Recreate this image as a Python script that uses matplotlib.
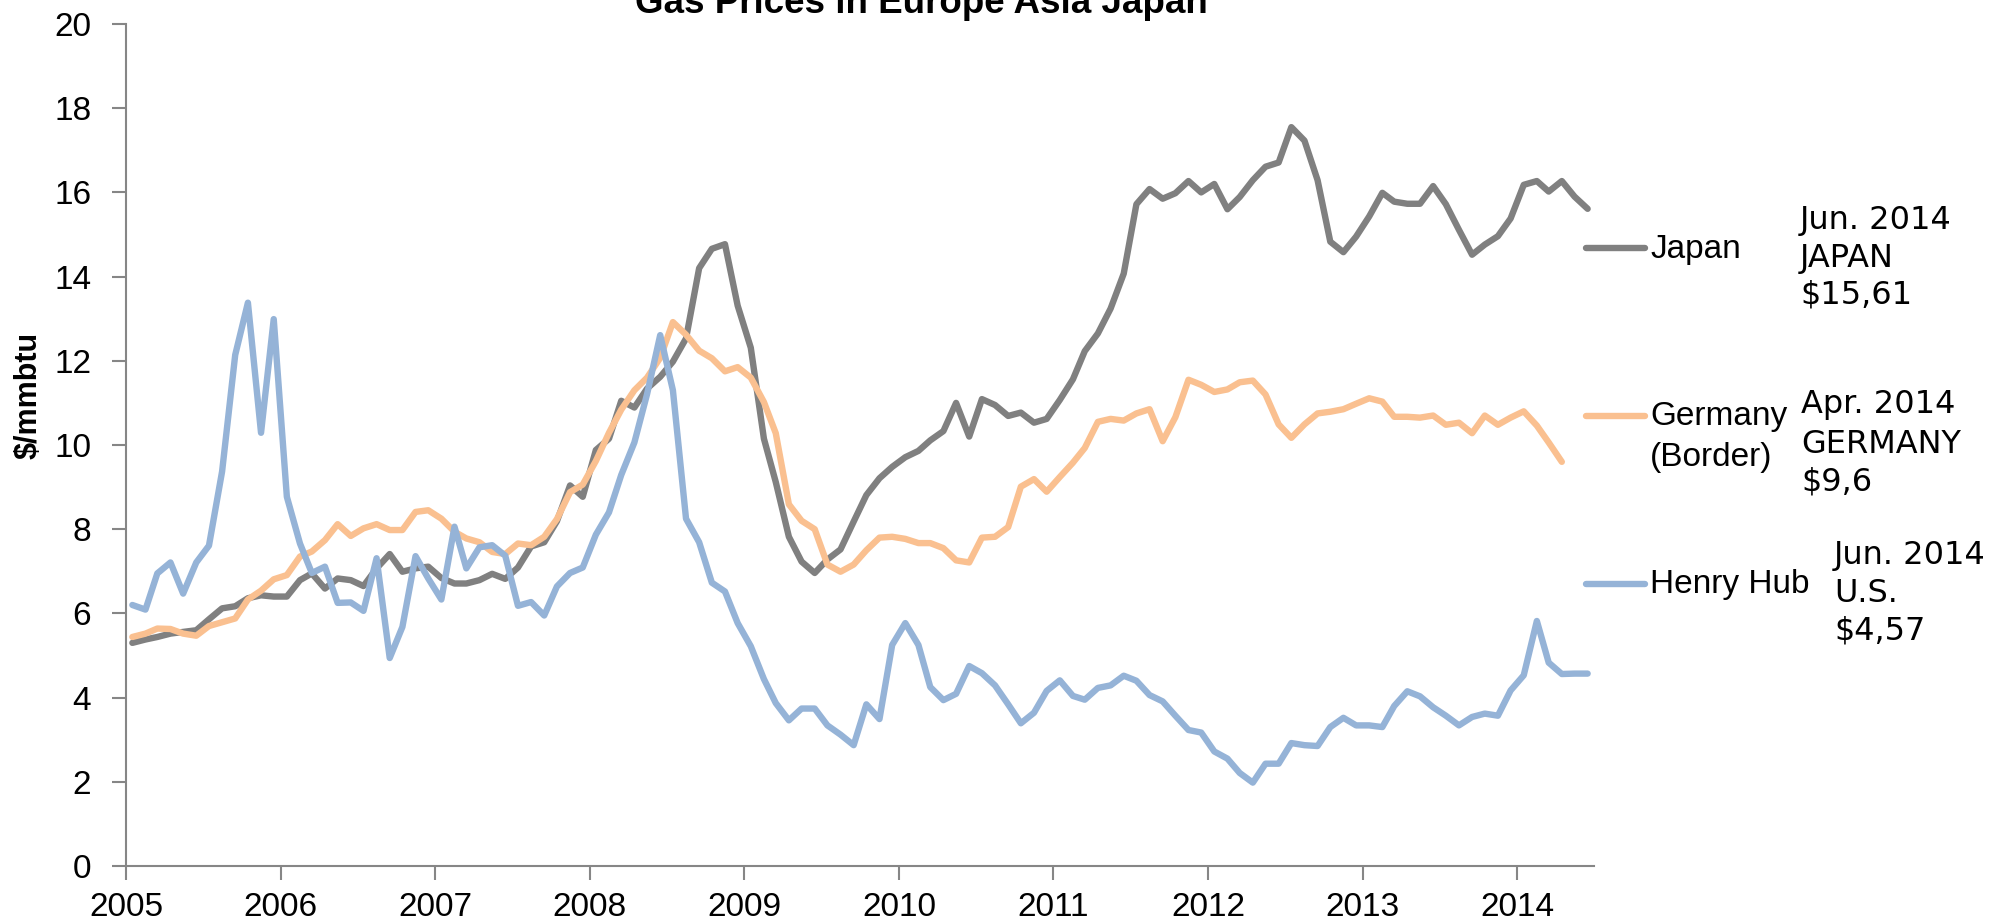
import matplotlib
matplotlib.use("Agg")
import matplotlib.pyplot as plt
import pandas as pd
from matplotlib.lines import Line2D

# ---------------- data (monthly, Jan 2005 onward) ----------------
start_month = "2005-01-01"

japan = [
    5.30, 5.38, 5.44, 5.52, 5.56, 5.60, 5.86, 6.12, 6.17, 6.36, 6.43, 6.40,   # 2005
    6.40, 6.79, 6.95, 6.59, 6.83, 6.79, 6.65, 7.07, 7.41, 6.99, 7.07, 7.11,   # 2006
    6.84, 6.71, 6.71, 6.79, 6.94, 6.82, 7.09, 7.59, 7.69, 8.19, 9.04, 8.77,   # 2007
    9.88, 10.15, 11.05, 10.89, 11.34, 11.62, 11.98, 12.53, 14.20, 14.66, 14.77, 13.31,  # 2008
    12.31, 10.15, 9.12, 7.82, 7.23, 6.96, 7.28, 7.52, 8.18, 8.81, 9.21, 9.48,  # 2009
    9.71, 9.86, 10.11, 10.33, 11.00, 10.20, 11.09, 10.95, 10.69, 10.77, 10.53, 10.62,  # 2010
    11.07, 11.56, 12.23, 12.65, 13.24, 14.07, 15.72, 16.08, 15.85, 15.98, 16.27, 16.00,  # 2011
    16.20, 15.60, 15.89, 16.29, 16.61, 16.71, 17.55, 17.23, 16.29, 14.83, 14.58, 14.95,  # 2012
    15.43, 15.99, 15.78, 15.73, 15.73, 16.15, 15.72, 15.11, 14.52, 14.76, 14.96, 15.38,  # 2013
    16.18, 16.27, 16.02, 16.27, 15.90, 15.61,                                            # 2014
]

germany = [
    5.44, 5.52, 5.64, 5.63, 5.52, 5.47, 5.70, 5.79, 5.88, 6.33, 6.54, 6.81,   # 2005
    6.91, 7.35, 7.47, 7.74, 8.12, 7.84, 8.02, 8.12, 7.98, 7.98, 8.41, 8.45,   # 2006
    8.25, 7.94, 7.78, 7.69, 7.46, 7.41, 7.66, 7.62, 7.82, 8.24, 8.88, 9.06,   # 2007
    9.62, 10.29, 10.84, 11.30, 11.60, 12.07, 12.92, 12.62, 12.24, 12.06, 11.75, 11.85,  # 2008
    11.60, 11.02, 10.28, 8.59, 8.20, 8.00, 7.16, 6.99, 7.16, 7.50, 7.80, 7.82,  # 2009
    7.77, 7.67, 7.67, 7.55, 7.26, 7.21, 7.80, 7.82, 8.05, 9.01, 9.19, 8.89,   # 2010
    9.24, 9.58, 9.93, 10.55, 10.62, 10.58, 10.75, 10.85, 10.09, 10.66, 11.55, 11.43,  # 2011
    11.26, 11.32, 11.49, 11.53, 11.20, 10.49, 10.17, 10.49, 10.75, 10.79, 10.85, 10.98,  # 2012
    11.11, 11.03, 10.67, 10.67, 10.65, 10.70, 10.48, 10.53, 10.28, 10.70, 10.48, 10.65,  # 2013
    10.80, 10.46, 10.06, 9.60,                                                          # 2014
]

henry_hub = [
    6.20, 6.09, 6.95, 7.21, 6.47, 7.21, 7.61, 9.37, 12.14, 13.38, 10.29, 12.99,  # 2005
    8.77, 7.66, 6.96, 7.11, 6.25, 6.26, 6.06, 7.31, 4.94, 5.68, 7.36, 6.83,   # 2006
    6.33, 8.06, 7.07, 7.57, 7.62, 7.37, 6.18, 6.27, 5.95, 6.64, 6.96, 7.09,   # 2007
    7.87, 8.40, 9.29, 10.06, 11.21, 12.61, 11.30, 8.25, 7.69, 6.73, 6.52, 5.77,  # 2008
    5.22, 4.44, 3.87, 3.46, 3.74, 3.74, 3.34, 3.12, 2.87, 3.84, 3.49, 5.25,   # 2009
    5.77, 5.25, 4.25, 3.94, 4.09, 4.75, 4.58, 4.29, 3.84, 3.39, 3.64, 4.16,   # 2010
    4.41, 4.04, 3.95, 4.23, 4.29, 4.52, 4.40, 4.06, 3.91, 3.57, 3.23, 3.17,   # 2011
    2.72, 2.55, 2.21, 1.98, 2.43, 2.43, 2.92, 2.87, 2.85, 3.30, 3.52, 3.34,   # 2012
    3.34, 3.30, 3.80, 4.15, 4.03, 3.77, 3.57, 3.34, 3.54, 3.62, 3.57, 4.17,   # 2013
    4.53, 5.82, 4.83, 4.56, 4.57, 4.57,                                       # 2014
]

series_names = ["Japan", "Germany\n(Border)", "Henry Hub"]
series_colors = ["#808080", "#FAC090", "#95B3D7"]
annotations = [
    ["Jun. 2014", "JAPAN", "$15,61"],
    ["Apr. 2014", "GERMANY", "$9,6"],
    ["Jun. 2014", "U.S.", "$4,57"],
]
year_ticks = list(range(2005, 2015))
y_ticks = list(range(0, 21, 2))
title = "Gas Prices in Europe Asia Japan"
y_label = "$/mmbtu"

# ---------------- figure ----------------
W, H = 1996, 923
fig = plt.figure(figsize=(W / 100, H / 100), dpi=100)
fx = lambda x: x / W
fy = lambda y: 1 - y / H

ax = fig.add_axes([fx(126), fy(866), (1594 - 126) / W, (866 - 24) / H])

def month_dates(n):
    return pd.date_range(start_month, periods=n, freq="MS") + pd.Timedelta(days=15)

for vals, col in zip([japan, germany, henry_hub], series_colors):
    ax.plot(month_dates(len(vals)), vals, color=col, lw=4.6,
            solid_joinstyle="round", solid_capstyle="round", clip_on=False)

ax.set_ylim(0, 20)
ax.set_yticks(y_ticks)
ax.set_xlim(pd.Timestamp("2005-01-01"), pd.Timestamp("2014-07-01"))
ax.set_xticks([pd.Timestamp(f"{y}-01-01") for y in year_ticks])
ax.set_xticklabels([str(y) for y in year_ticks])

font = "Liberation Sans"
for lab in ax.get_xticklabels() + ax.get_yticklabels():
    lab.set_family(font)
ax.tick_params(axis="both", direction="out", length=10, width=1.5,
               color="#868686", labelsize=24, labelcolor="black")
ax.tick_params(axis="x", pad=9)
ax.tick_params(axis="y", pad=15)
for s in ["top", "right"]:
    ax.spines[s].set_visible(False)
for s in ["left", "bottom"]:
    ax.spines[s].set_color("#868686")
    ax.spines[s].set_linewidth(1.5)

fig.text(fx(921), fy(13), title, ha="center", va="baseline",
         fontsize=26.5, fontweight="bold", family=font)
fig.text(fx(29), fy(395), y_label.replace("$", r"\$"), rotation=90,
         ha="center", va="center", fontsize=22, fontweight="bold", family=font)

# legend (manual, at right of plot)
legend_line_y = [248, 416, 584]
legend_text_base = [[258], [425, 466], [593]]
for name, col, ly, bases in zip(series_names, series_colors, legend_line_y, legend_text_base):
    fig.add_artist(Line2D([fx(1586), fx(1645)], [fy(ly), fy(ly)], color=col,
                          lw=4.6, solid_capstyle="round", transform=fig.transFigure))
    for line, b in zip(name.split("\n"), bases):
        fig.text(fx(1650), fy(b), line, ha="left", va="baseline",
                 fontsize=24, family=font)

# annotations
ann_x = [1800, 1801, 1834]
ann_base = [[229, 267, 304], [413, 453, 490], [564, 602, 640]]
for lines, x, bases in zip(annotations, ann_x, ann_base):
    for line, b in zip(lines, bases):
        fig.text(fx(x), fy(b), line.replace("$", r"\$"), ha="left", va="baseline",
                 fontsize=23, family="DejaVu Sans")

fig.savefig("out.png", dpi=100, facecolor="white")
